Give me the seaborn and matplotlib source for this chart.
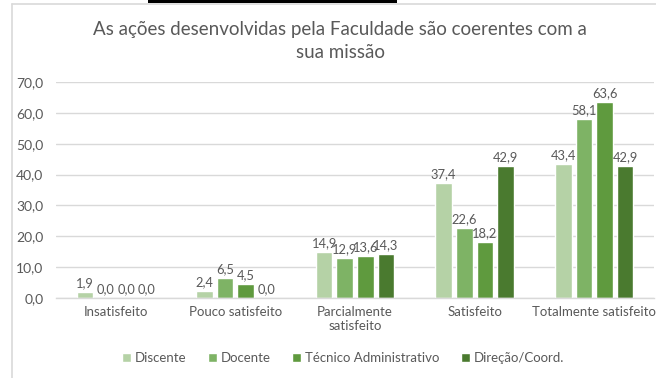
import matplotlib
matplotlib.use("Agg")
import matplotlib.pyplot as plt
from matplotlib.lines import Line2D
from matplotlib.patches import Rectangle
import numpy as np
import pandas as pd
import seaborn as sns

categories = ["Insatisfeito", "Pouco satisfeito", "Parcialmente\nsatisfeito",
              "Satisfeito", "Totalmente satisfeito"]
groups = ["Discente", "Docente", "Técnico Administrativo", "Direção/Coord."]
discente = [1.9, 2.4, 14.9, 37.4, 43.4]
docente = [0.0, 6.5, 12.9, 22.6, 58.1]
tecnico = [0.0, 4.5, 13.6, 18.2, 63.6]
direcao = [0.0, 0.0, 14.3, 42.9, 42.9]
yticks = [0, 10, 20, 30, 40, 50, 60, 70]

colors = ["#b5d2a6", "#7eb365", "#5f9a3e", "#4a7a2f"]
text_gray = "#595959"
grid_gray = "#d9d9d9"

sns.set_theme(style="white")
plt.rcParams["font.family"] = ["Lato", "DejaVu Sans"]

rows = []
for g, vals in zip(groups, [discente, docente, tecnico, direcao]):
    for c, v in zip(categories, vals):
        rows.append({"categoria": c, "grupo": g, "valor": v})
df = pd.DataFrame(rows)

fig = plt.figure(figsize=(6.56, 3.78), dpi=100)
ax = fig.add_axes([56 / 656, 1 - 298 / 378, 598 / 656, (298 - 82) / 378])

sns.barplot(data=df, x="categoria", y="valor", hue="grupo", order=categories,
            hue_order=groups, palette=colors, width=0.69, gap=0.2,
            saturation=1, errorbar=None, ax=ax, legend=True)

ax.set_ylim(0, 70)
ax.set_yticks(yticks)
ax.set_yticklabels([f"{t:.1f}".replace(".", ",") for t in yticks])
ax.yaxis.grid(True, color=grid_gray, linewidth=1)
ax.set_axisbelow(True)
for side in ["top", "right", "left"]:
    ax.spines[side].set_visible(False)
ax.spines["bottom"].set_color(grid_gray)
ax.spines["bottom"].set_linewidth(1)
ax.set_xlabel("")
ax.set_ylabel("")
ax.tick_params(axis="y", length=0, pad=9, labelsize=10, labelcolor=text_gray)
ax.tick_params(axis="x", length=0, pad=6, labelsize=9.5, labelcolor=text_gray)
ax.set_xlim(-0.5, len(categories) - 0.5)

for cont in ax.containers:
    ax.bar_label(cont, labels=[f"{v:.1f}".replace(".", ",") for v in cont.datavalues],
                 padding=2, fontsize=9.3, color=text_gray)

handles, labels = ax.get_legend_handles_labels()
ax.legend_.remove()
fig.legend(handles, labels, loc="center", bbox_to_anchor=(343 / 656, 1 - 358 / 378),
           ncol=4, frameon=False, fontsize=9.5, labelcolor=text_gray,
           handlelength=0.7, handleheight=0.7, handletextpad=0.3, columnspacing=1.6)

fig.text(340 / 656, 1 - 41 / 378,
         "As ações desenvolvidas pela Faculdade são coerentes com a\nsua missão",
         ha="center", va="center", fontsize=13.5, color=text_gray, linespacing=1.4)

# chart frame and top strip
fig.add_artist(Line2D([12 / 656, 12 / 656], [0, 1 - 4 / 378], transform=fig.transFigure,
                      color=grid_gray, linewidth=1.2))
fig.add_artist(Line2D([12 / 656, 1], [1 - 4 / 378, 1 - 4 / 378], transform=fig.transFigure,
                      color=grid_gray, linewidth=1.2))
fig.add_artist(Rectangle((148 / 656, 1 - 3 / 378), (397 - 148) / 656, 3 / 378,
                         transform=fig.transFigure, color="black", linewidth=0))

fig.savefig("out.png", dpi=100, facecolor="white")
